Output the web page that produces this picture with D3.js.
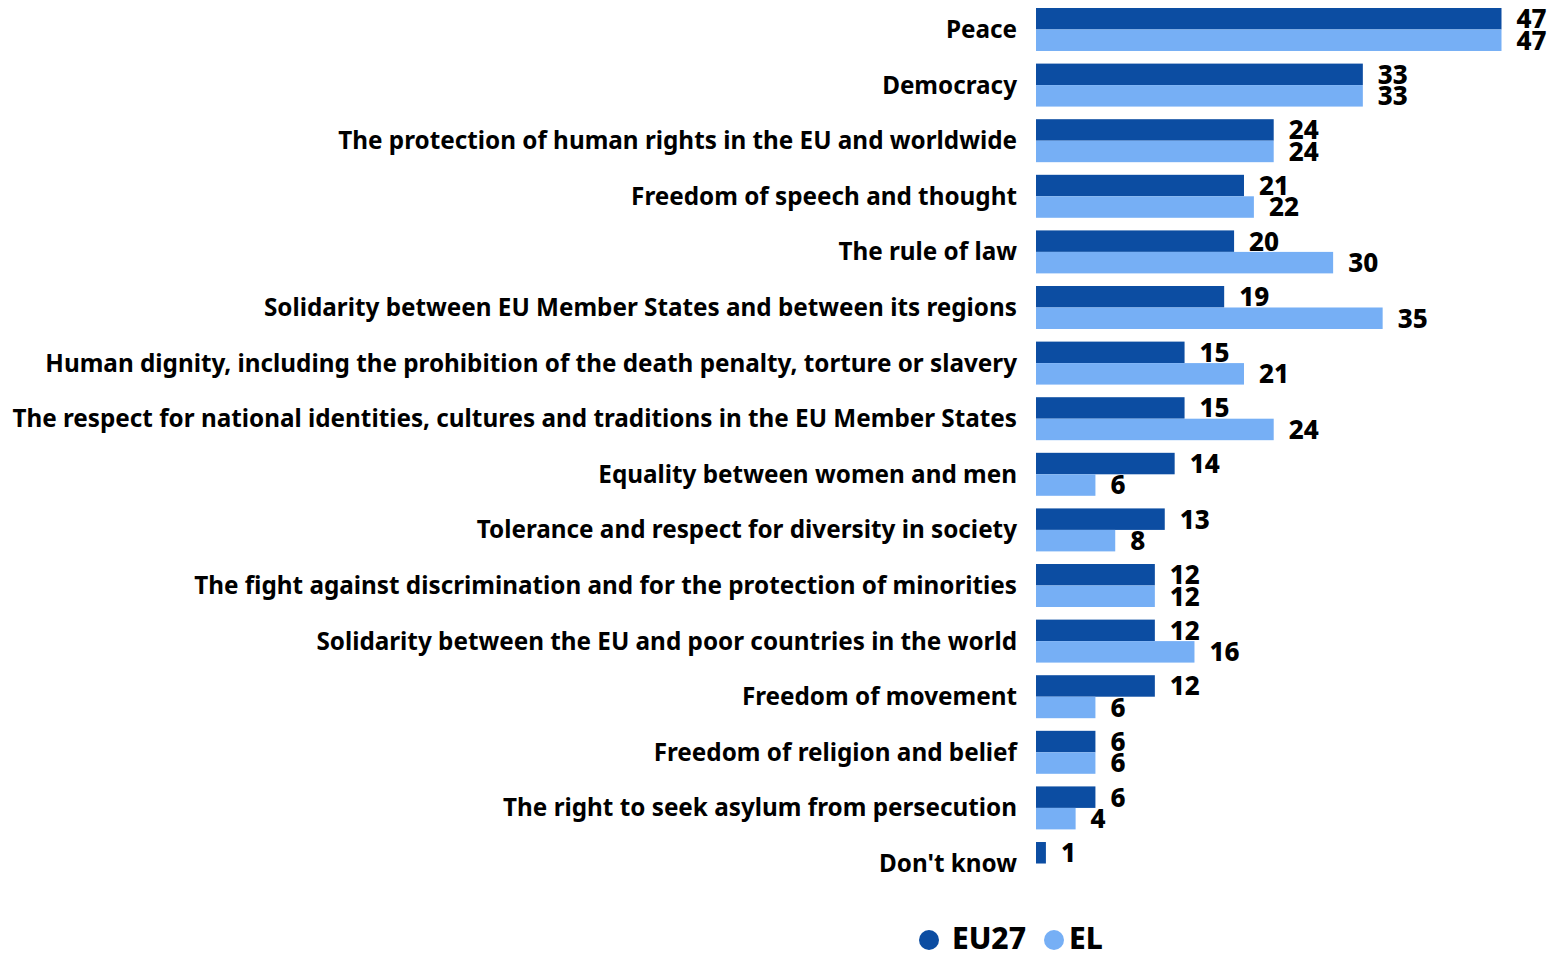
<!DOCTYPE html>
<html><head><meta charset="utf-8">
<script src="https://cdn.jsdelivr.net/npm/d3@7"></script>
<style>body{margin:0;background:#fff}svg{display:block}</style>
</head><body>
<script>
const categories = [
 "Peace","Democracy","The protection of human rights in the EU and worldwide","Freedom of speech and thought",
 "The rule of law","Solidarity between EU Member States and between its regions",
 "Human dignity, including the prohibition of the death penalty, torture or slavery",
 "The respect for national identities, cultures and traditions in the EU Member States",
 "Equality between women and men","Tolerance and respect for diversity in society",
 "The fight against discrimination and for the protection of minorities",
 "Solidarity between the EU and poor countries in the world","Freedom of movement",
 "Freedom of religion and belief","The right to seek asylum from persecution","Don't know"];
const eu27 = [47,33,24,21,20,19,15,15,14,13,12,12,12,6,6,1];
const el = [47,33,24,22,30,35,21,24,6,8,12,16,6,6,4,null];
const seriesNames = ["EU27","EL"];
const colors = ["#0c4da2","#76aff5"];

const W=1552,H=953;
const svg=d3.select("body").append("svg").attr("width",W).attr("height",H);
const font="'Noto Sans', 'Open Sans', sans-serif";
const numFont="'Noto Sans', sans-serif";
const x=d3.scaleLinear().domain([0,47]).range([1036,1501.5]);
const y=d3.scaleBand().domain(categories).range([8,885]).paddingInner(0.227).paddingOuter(0);
const sub=d3.scaleBand().domain(seriesNames).range([0,y.bandwidth()]);

const rows=svg.selectAll("g.row").data(categories).join("g").attr("class","row")
 .attr("transform",d=>`translate(0,${y(d)})`);
const labels=rows.append("text").attr("x",1017).attr("y",y.bandwidth()/2).attr("dy","0.35em")
 .attr("text-anchor","end").attr("font-family",font).attr("font-weight",700).attr("font-size",22)
 .attr("fill","#000").text(d=>d);
// fit longest label to reference width
let maxW=0; labels.each(function(){maxW=Math.max(maxW,this.getComputedTextLength());});
const fs=22*1005/maxW;
labels.attr("font-size",fs);

[eu27,el].forEach((arr,si)=>{
  rows.each(function(d,i){
    const v=arr[i]; if(v==null) return;
    const g=d3.select(this);
    g.append("rect").attr("x",x(0)).attr("y",sub(seriesNames[si])).attr("width",x(v)-x(0))
     .attr("height",sub.bandwidth()).attr("fill",colors[si]);
    g.append("text").attr("x",x(v)+15).attr("y",sub(seriesNames[si])+sub.bandwidth()/2).attr("dy","0.36em")
     .attr("font-family",numFont).attr("font-weight",800).attr("font-size",26).attr("fill","#000").text(v);
  });
});

const leg=svg.append("g").attr("transform","translate(0,938)");
const legItems=[{n:"EU27",cx:929,tx:952},{n:"EL",cx:1054,tx:1069}];
legItems.forEach((it,i)=>{
  leg.append("circle").attr("cx",it.cx).attr("cy",2).attr("r",10).attr("fill",colors[i]);
  leg.append("text").attr("x",it.tx).attr("y",0).attr("dy","0.35em").attr("font-family",numFont)
   .attr("font-weight",800).attr("font-size",30).text(seriesNames[i]);
});
</script>
</body></html>
